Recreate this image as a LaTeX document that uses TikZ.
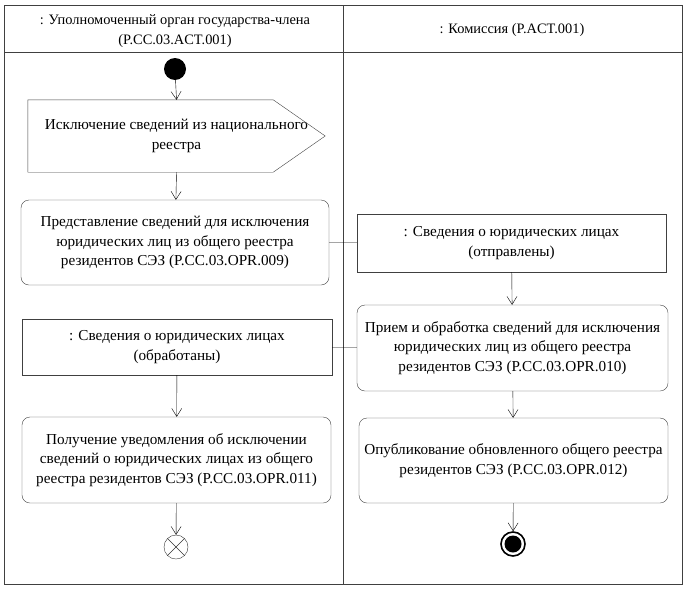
\documentclass[tikz,border=0pt]{standalone}
\usepackage{fontspec}
\setmainfont{Liberation Serif}
\usetikzlibrary{arrows.meta}

\begin{document}
\begin{tikzpicture}[x=1pt, y=-1pt,
  font=\rmfamily\fontsize{15.2}{19.5}\selectfont,
  act/.style={draw=black!75, rounded corners=8pt, align=center, inner sep=0pt},
  obj/.style={draw=black!75, align=center, inner sep=0pt},
  flow/.style={-{Straight Barb[length=8pt,width=10pt]}},
  lane/.style={draw=black!75, line width=0.8pt},
  head/.style={align=center, font=\rmfamily\fontsize{14.4}{19.5}\selectfont}]
\useasboundingbox (0,0) rectangle (687,589);

% swimlanes
\draw[lane] (4,5) rectangle (682,584);
\draw[lane] (4,52) -- (682,52);
\draw[lane] (343,5) -- (343,584);

\node[head] (hleft) at (175,31) {: Уполномоченный орган государства-члена\\(P.CC.03.ACT.001)};
\node[head] (hright) at (512,30) {: Комиссия (P.ACT.001)};

% nodes
\node[circle, fill=black, minimum size=22pt, inner sep=0pt] (start) at (175,69) {};
\node[align=center, minimum width=297pt, minimum height=72pt, inner sep=0pt] (excl) at (176.5,136)
  {Исключение сведений из национального\\реестра};
\draw[black!75] (excl.north west) -- ([xshift=-52pt]excl.north east) -- (excl.east)
  -- ([xshift=-52pt]excl.south east) -- (excl.south west) -- cycle;
\node[act, minimum width=308pt, minimum height=85pt] (submit) at (175,242.5)
  {Представление сведений для исключения\\юридических лиц из общего реестра\\резидентов СЭЗ (P.CC.03.OPR.009)};
\node[obj, minimum width=309pt, minimum height=58pt] (sent) at (511.5,243)
  {: Сведения о юридических лицах\\(отправлены)};
\node[act, minimum width=311pt, minimum height=86pt] (receive) at (512.5,348)
  {Прием и обработка сведений для исключения\\юридических лиц из общего реестра\\резидентов СЭЗ (P.CC.03.OPR.010)};
\node[obj, minimum width=310pt, minimum height=56pt] (done) at (177,347)
  {: Сведения о юридических лицах\\(обработаны)};
\node[act, minimum width=309pt, minimum height=86pt] (notify) at (176.5,460)
  {Получение уведомления об исключении\\сведений о юридических лицах из общего\\реестра резидентов СЭЗ (P.CC.03.OPR.011)};
\node[act, minimum width=309pt, minimum height=85pt] (publish) at (513.5,460.5)
  {Опубликование обновленного общего реестра\\резидентов СЭЗ (P.CC.03.OPR.012)};
\node[circle, draw=black!80, minimum size=24pt, inner sep=0pt] (flowend) at (176,547) {};
\draw[black!80] (flowend.45) -- (flowend.225);
\draw[black!80] (flowend.135) -- (flowend.-45);
\node[circle, draw, line width=1.6pt, minimum size=24pt, inner sep=0pt] (fin) at (513,544) {};
\fill (fin) circle (8.5pt);

% connectors
\draw[flow] (start) -- (excl.north);
\draw[flow] (excl.south) -- (submit);
\draw (submit) -- (sent);
\draw[flow] (sent) -- (receive);
\draw (receive) -- (done);
\draw[flow] (done) -- (notify);
\draw[flow] (notify) -- (flowend);
\draw[flow] (receive) -- (publish);
\draw[flow] (publish) -- (fin);

\end{tikzpicture}
\end{document}
